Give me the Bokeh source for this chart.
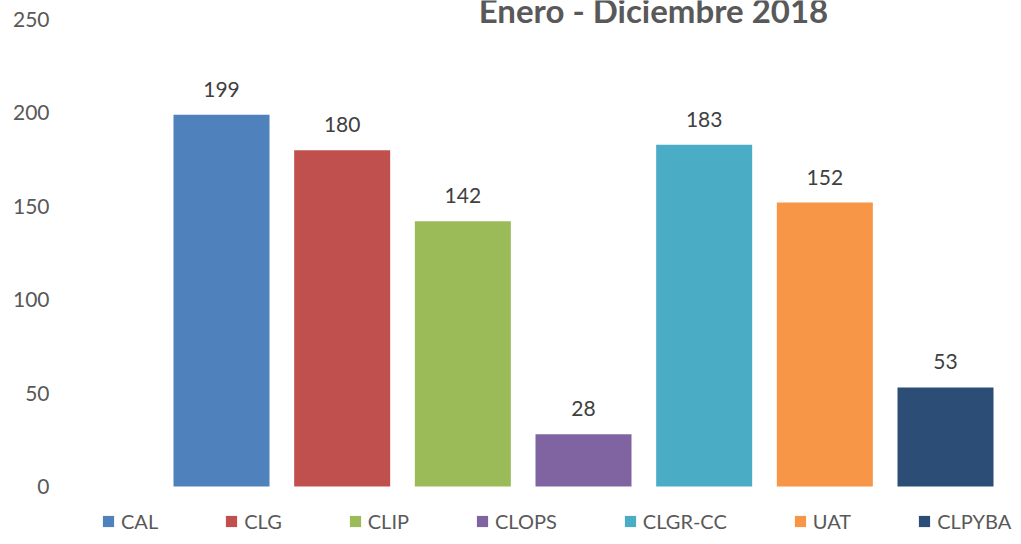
from bokeh.plotting import figure
from bokeh.models import ColumnDataSource, FixedTicker, Legend, LegendItem, Range1d, LabelSet, Label
from bokeh.core.properties import value
from bokeh.embed import file_html
from bokeh.resources import INLINE

categories = ["CAL", "CLG", "CLIP", "CLOPS", "CLGR-CC", "UAT", "CLPYBA"]
values = [199, 180, 142, 28, 183, 152, 53]
colors = ["#4F81BD", "#C0504D", "#9BBB59", "#8064A2", "#4BACC6", "#F79646", "#2C4D75"]
y_ticks = [0, 50, 100, 150, 200, 250]
title_text = "Enero - Diciembre 2018"

FONT = "Lato"
x = list(range(1, len(categories) + 1))
src = ColumnDataSource(dict(x=x, v=values, c=colors, cat=categories,
                            lbl=[str(v) for v in values]))

p = figure(width=1013, height=536, output_backend="svg", toolbar_location=None,
           x_range=Range1d(-0.4088, 7.5635), y_range=Range1d(-26.77, 260.17),
           min_border_left=51, min_border_right=0, min_border_top=0, min_border_bottom=0)
p.outline_line_color = None
p.grid.visible = False
p.xaxis.visible = False

ya = p.yaxis[0]
ya.ticker = FixedTicker(ticks=y_ticks)
ya.axis_line_color = None
ya.major_tick_line_color = None
ya.minor_tick_line_color = None
ya.major_tick_out = 0
ya.major_tick_in = 0
ya.major_label_standoff = 2
ya.major_label_text_font = FONT
ya.major_label_text_font_size = "21px"
ya.major_label_text_color = "#595959"

r = p.vbar(x="x", top="v", bottom=0, width=0.7956, fill_color="c", line_color=None, source=src)

labels = LabelSet(x="x", y="v", text="lbl", source=src, y_offset=18,
                  text_align="center", text_baseline="alphabetic",
                  text_font=value(FONT), text_font_size=value("21px"), text_color=value("#404040"))
p.add_layout(labels)

title = Label(x=4.58, y=255.0, text=title_text, text_align="center", text_baseline="alphabetic",
              text_font=FONT, text_font_style="bold", text_font_size="33px", text_color="#595959")
p.add_layout(title)

items = [LegendItem(label=cat, renderers=[r], index=i) for i, cat in enumerate(categories)]
legend = Legend(items=items, orientation="horizontal", location=(50, 3),
                glyph_width=14, glyph_height=14, label_standoff=6, spacing=66,
                padding=0, margin=0, border_line_color=None, background_fill_alpha=0,
                label_text_font=FONT, label_text_font_size="20px", label_text_color="#595959",
                label_height=20)
p.add_layout(legend)

open("out.html", "w").write(file_html(p, INLINE))
